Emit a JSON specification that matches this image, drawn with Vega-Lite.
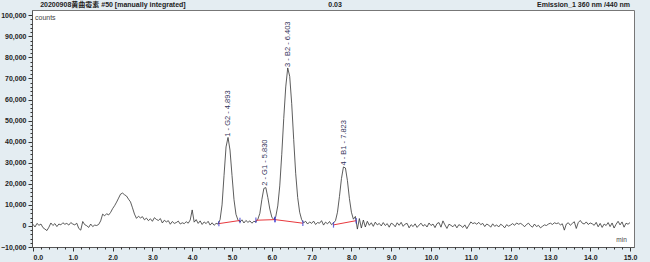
{
  "$schema": "https://vega.github.io/schema/vega-lite/v6.json",
  "width": 602,
  "height": 237,
  "autosize": {"type": "none"},
  "padding": {"left": 32, "top": 10, "right": 16, "bottom": 15},
  "background": "#e4edf2",
  "config": {
    "view": {"fill": "white", "stroke": "#777", "strokeWidth": 1},
    "font": "Liberation Sans, Noto Sans CJK SC",
    "axis": {"labelFontSize": 7, "labelFontWeight": "bold", "labelColor": "#222", "tickColor": "#333", "domainColor": "#555", "grid": false, "tickSize": 3, "labelPadding": 2, "title": null}
  },
  "datasets": {
    "trace": [
      {"t":0.00,"v":800},{"t":0.05,"v":-500},{"t":0.10,"v":1200},{"t":0.15,"v":300},{"t":0.20,"v":900},{"t":0.25,"v":-800},{"t":0.30,"v":-1500},{"t":0.35,"v":-2200},{"t":0.40,"v":-600},{"t":0.45,"v":1400},
      {"t":0.50,"v":200},{"t":0.55,"v":1100},{"t":0.60,"v":-300},{"t":0.65,"v":900},{"t":0.70,"v":500},{"t":0.75,"v":1500},{"t":0.80,"v":800},{"t":0.85,"v":1200},{"t":0.90,"v":400},{"t":0.95,"v":1600},
      {"t":1.00,"v":900},{"t":1.05,"v":500},{"t":1.10,"v":1300},{"t":1.15,"v":-1200},{"t":1.20,"v":-2000},{"t":1.25,"v":2100},{"t":1.30,"v":600},{"t":1.35,"v":100},{"t":1.40,"v":-700},{"t":1.45,"v":900},
      {"t":1.50,"v":-300},{"t":1.55,"v":400},{"t":1.60,"v":200},{"t":1.65,"v":700},{"t":1.70,"v":2400},{"t":1.75,"v":5600},{"t":1.80,"v":4800},{"t":1.85,"v":5800},{"t":1.90,"v":5200},{"t":1.95,"v":6400},
      {"t":2.00,"v":8200},{"t":2.05,"v":9600},{"t":2.10,"v":11300},{"t":2.15,"v":13200},{"t":2.20,"v":15100},{"t":2.25,"v":15600},{"t":2.30,"v":14800},{"t":2.35,"v":14200},{"t":2.40,"v":12700},{"t":2.45,"v":11400},
      {"t":2.50,"v":8600},{"t":2.55,"v":5600},{"t":2.60,"v":3600},{"t":2.65,"v":4600},{"t":2.70,"v":3800},{"t":2.75,"v":4400},{"t":2.80,"v":2900},{"t":2.85,"v":3700},{"t":2.90,"v":2500},{"t":2.95,"v":3400},
      {"t":3.00,"v":2200},{"t":3.05,"v":3900},{"t":3.10,"v":3100},{"t":3.15,"v":2600},{"t":3.20,"v":3500},{"t":3.25,"v":1400},{"t":3.30,"v":2700},{"t":3.35,"v":1900},{"t":3.40,"v":2500},{"t":3.45,"v":800},
      {"t":3.50,"v":2100},{"t":3.55,"v":1200},{"t":3.60,"v":1600},{"t":3.65,"v":2300},{"t":3.70,"v":900},{"t":3.75,"v":1500},{"t":3.80,"v":1100},{"t":3.85,"v":2000},{"t":3.90,"v":1300},{"t":3.95,"v":2800},
      {"t":4.00,"v":7600},{"t":4.05,"v":1800},{"t":4.10,"v":3000},{"t":4.15,"v":1200},{"t":4.20,"v":2400},{"t":4.25,"v":700},{"t":4.30,"v":1900},{"t":4.35,"v":1100},{"t":4.40,"v":2200},{"t":4.45,"v":400},
      {"t":4.50,"v":1500},{"t":4.55,"v":300},{"t":4.60,"v":1200},{"t":4.65,"v":900},{"t":4.70,"v":3000},{"t":4.75,"v":10000},{"t":4.80,"v":24000},{"t":4.85,"v":37500},{"t":4.90,"v":42000},{"t":4.95,"v":36000},
      {"t":5.00,"v":24000},{"t":5.05,"v":12500},{"t":5.10,"v":5500},{"t":5.15,"v":2800},{"t":5.20,"v":1800},{"t":5.25,"v":2900},{"t":5.30,"v":1400},{"t":5.35,"v":2600},{"t":5.40,"v":1700},{"t":5.45,"v":2400},
      {"t":5.50,"v":1300},{"t":5.55,"v":2200},{"t":5.60,"v":1900},{"t":5.65,"v":3200},{"t":5.70,"v":6000},{"t":5.75,"v":12500},{"t":5.80,"v":17800},{"t":5.85,"v":18200},{"t":5.90,"v":13500},{"t":5.95,"v":8000},
      {"t":6.00,"v":4200},{"t":6.05,"v":3000},{"t":6.10,"v":4500},{"t":6.15,"v":9500},{"t":6.20,"v":19000},{"t":6.25,"v":34000},{"t":6.30,"v":51000},{"t":6.35,"v":66000},{"t":6.40,"v":75000},{"t":6.45,"v":71000},
      {"t":6.50,"v":58000},{"t":6.55,"v":41000},{"t":6.60,"v":25000},{"t":6.65,"v":13500},{"t":6.70,"v":6500},{"t":6.75,"v":3000},{"t":6.80,"v":1500},{"t":6.85,"v":2200},{"t":6.90,"v":900},{"t":6.95,"v":1900},
      {"t":7.00,"v":1200},{"t":7.05,"v":2300},{"t":7.10,"v":700},{"t":7.15,"v":1600},{"t":7.20,"v":1300},{"t":7.25,"v":2500},{"t":7.30,"v":400},{"t":7.35,"v":1800},{"t":7.40,"v":1000},{"t":7.45,"v":2100},
      {"t":7.50,"v":600},{"t":7.55,"v":1400},{"t":7.60,"v":2500},{"t":7.65,"v":6500},{"t":7.70,"v":14000},{"t":7.75,"v":22500},{"t":7.80,"v":28000},{"t":7.85,"v":27500},{"t":7.90,"v":21500},{"t":7.95,"v":13000},
      {"t":8.00,"v":6500},{"t":8.05,"v":3200},{"t":8.10,"v":4500},{"t":8.15,"v":-1500},{"t":8.20,"v":3500},{"t":8.25,"v":-1000},{"t":8.30,"v":2800},{"t":8.35,"v":-500},{"t":8.40,"v":2200},{"t":8.45,"v":300},
      {"t":8.50,"v":1500},{"t":8.55,"v":-200},{"t":8.60,"v":1800},{"t":8.65,"v":500},{"t":8.70,"v":1200},{"t":8.75,"v":0},{"t":8.80,"v":1600},{"t":8.85,"v":200},{"t":8.90,"v":1100},{"t":8.95,"v":-600},
      {"t":9.00,"v":1300},{"t":9.05,"v":800},{"t":9.10,"v":-400},{"t":9.15,"v":1500},{"t":9.20,"v":300},{"t":9.25,"v":1700},{"t":9.30,"v":-200},{"t":9.35,"v":900},{"t":9.40,"v":1200},{"t":9.45,"v":-900},
      {"t":9.50,"v":600},{"t":9.55,"v":-300},{"t":9.60,"v":1000},{"t":9.65,"v":-700},{"t":9.70,"v":400},{"t":9.75,"v":1300},{"t":9.80,"v":-100},{"t":9.85,"v":700},{"t":9.90,"v":-500},{"t":9.95,"v":1400},
      {"t":10.00,"v":200},{"t":10.05,"v":900},{"t":10.10,"v":-800},{"t":10.15,"v":1100},{"t":10.20,"v":1600},{"t":10.25,"v":-600},{"t":10.30,"v":2400},{"t":10.35,"v":500},{"t":10.40,"v":-1200},{"t":10.45,"v":800},
      {"t":10.50,"v":300},{"t":10.55,"v":-400},{"t":10.60,"v":700},{"t":10.65,"v":-900},{"t":10.70,"v":600},{"t":10.75,"v":100},{"t":10.80,"v":-700},{"t":10.85,"v":500},{"t":10.90,"v":-1300},{"t":10.95,"v":300},
      {"t":11.00,"v":1900},{"t":11.05,"v":1100},{"t":11.10,"v":1500},{"t":11.15,"v":800},{"t":11.20,"v":1700},{"t":11.25,"v":600},{"t":11.30,"v":1200},{"t":11.35,"v":-300},{"t":11.40,"v":900},{"t":11.45,"v":400},
      {"t":11.50,"v":-600},{"t":11.55,"v":1000},{"t":11.60,"v":-200},{"t":11.65,"v":500},{"t":11.70,"v":-500},{"t":11.75,"v":800},{"t":11.80,"v":200},{"t":11.85,"v":-900},{"t":11.90,"v":600},{"t":11.95,"v":-100},
      {"t":12.00,"v":400},{"t":12.05,"v":1100},{"t":12.10,"v":300},{"t":12.15,"v":1400},{"t":12.20,"v":800},{"t":12.25,"v":1200},{"t":12.30,"v":600},{"t":12.35,"v":-400},{"t":12.40,"v":700},{"t":12.45,"v":1300},
      {"t":12.50,"v":100},{"t":12.55,"v":-600},{"t":12.60,"v":900},{"t":12.65,"v":-300},{"t":12.70,"v":300},{"t":12.75,"v":-900},{"t":12.80,"v":-200},{"t":12.85,"v":500},{"t":12.90,"v":200},{"t":12.95,"v":900},
      {"t":13.00,"v":1300},{"t":13.05,"v":700},{"t":13.10,"v":1500},{"t":13.15,"v":1100},{"t":13.20,"v":1400},{"t":13.25,"v":500},{"t":13.30,"v":1000},{"t":13.35,"v":-2000},{"t":13.40,"v":900},{"t":13.45,"v":1500},
      {"t":13.50,"v":300},{"t":13.55,"v":1200},{"t":13.60,"v":2000},{"t":13.65,"v":-1200},{"t":13.70,"v":1600},{"t":13.75,"v":2600},{"t":13.80,"v":1300},{"t":13.85,"v":900},{"t":13.90,"v":1900},{"t":13.95,"v":700},
      {"t":14.00,"v":1400},{"t":14.05,"v":1000},{"t":14.10,"v":300},{"t":14.15,"v":1700},{"t":14.20,"v":-400},{"t":14.25,"v":1200},{"t":14.30,"v":-700},{"t":14.35,"v":900},{"t":14.40,"v":200},{"t":14.45,"v":1600},
      {"t":14.50,"v":-300},{"t":14.55,"v":1400},{"t":14.60,"v":-1000},{"t":14.65,"v":800},{"t":14.70,"v":2200},{"t":14.75,"v":500},{"t":14.80,"v":1900},{"t":14.85,"v":-600},{"t":14.90,"v":1300},{"t":14.95,"v":800},
      {"t":15.00,"v":1600}
    ],
    "baselines": [
      {"peak":1,"t":4.67,"v":1100},{"peak":1,"t":5.20,"v":2600},
      {"peak":2,"t":5.60,"v":2700},{"peak":2,"t":6.08,"v":3000},
      {"peak":3,"t":6.08,"v":3000},{"peak":3,"t":6.78,"v":1300},
      {"peak":4,"t":7.55,"v":500},{"peak":4,"t":8.12,"v":2500}
    ],
    "peaks": [
      {"t":4.893,"v":41900,"label":"1 - G2 - 4.893"},
      {"t":5.830,"v":18600,"label":"2 - G1 - 5.830"},
      {"t":6.403,"v":75000,"label":"3 - B2 - 6.403"},
      {"t":7.823,"v":28200,"label":"4 - B1 - 7.823"}
    ],
    "one": [{}]
  },
  "resolve": {"axis": {"x": "independent", "y": "independent"}},
  "layer": [
    {
      "data": {"name": "trace"},
      "mark": {"type": "line", "color": "#333", "strokeWidth": 0.8, "interpolate": "linear"},
      "encoding": {
        "x": {"field": "t", "type": "quantitative", "scale": {"domain": [-0.025, 15.1], "nice": false, "zero": false},
          "axis": {"orient": "bottom", "values": [0,1,2,3,4,5,6,7,8,9,10,11,12,13,14,15], "format": ".1f", "tickSize": 4}},
        "y": {"field": "v", "type": "quantitative", "scale": {"domain": [-10000, 102500], "nice": false, "zero": false},
          "axis": {"orient": "left", "values": [-10000,0,10000,20000,30000,40000,50000,60000,70000,80000,90000,100000], "format": ",d", "tickSize": 4}}
      }
    },
    {
      "data": {"name": "baselines"},
      "mark": {"type": "line", "color": "#e8383d", "strokeWidth": 1},
      "encoding": {
        "x": {"field": "t", "type": "quantitative", "scale": {"domain": [-0.025, 15.1], "nice": false, "zero": false},
          "axis": {"orient": "bottom", "labels": false, "domain": false, "tickSize": 2,
            "values": [0.2,0.4,0.6,0.8,1.2,1.4,1.6,1.8,2.2,2.4,2.6,2.8,3.2,3.4,3.6,3.8,4.2,4.4,4.6,4.8,5.2,5.4,5.6,5.8,6.2,6.4,6.6,6.8,7.2,7.4,7.6,7.8,8.2,8.4,8.6,8.8,9.2,9.4,9.6,9.8,10.2,10.4,10.6,10.8,11.2,11.4,11.6,11.8,12.2,12.4,12.6,12.8,13.2,13.4,13.6,13.8,14.2,14.4,14.6,14.8]}},
        "y": {"field": "v", "type": "quantitative", "scale": {"domain": [-10000, 102500], "nice": false, "zero": false},
          "axis": {"orient": "left", "labels": false, "domain": false, "tickSize": 2,
            "values": [-8000,-6000,-4000,-2000,2000,4000,6000,8000,12000,14000,16000,18000,22000,24000,26000,28000,32000,34000,36000,38000,42000,44000,46000,48000,52000,54000,56000,58000,62000,64000,66000,68000,72000,74000,76000,78000,82000,84000,86000,88000,92000,94000,96000,98000]}},
        "detail": {"field": "peak", "type": "nominal"}
      }
    },
    {
      "data": {"name": "baselines"},
      "mark": {"type": "point", "shape": "M0,-1L0,1", "size": 30, "stroke": "#2a2ad0", "strokeWidth": 1.2, "filled": false},
      "encoding": {
        "x": {"field": "t", "type": "quantitative", "scale": {"domain": [-0.025, 15.1], "nice": false, "zero": false}, "axis": null},
        "y": {"field": "v", "type": "quantitative", "scale": {"domain": [-10000, 102500], "nice": false, "zero": false}, "axis": null}
      }
    },
    {
      "data": {"name": "peaks"},
      "mark": {"type": "text", "angle": 270, "align": "left", "baseline": "middle", "fontSize": 7.5, "color": "#33335a", "dx": 1},
      "encoding": {
        "x": {"field": "t", "type": "quantitative", "scale": {"domain": [-0.025, 15.1], "nice": false, "zero": false}, "axis": null},
        "y": {"field": "v", "type": "quantitative", "scale": {"domain": [-10000, 102500], "nice": false, "zero": false}, "axis": null},
        "text": {"field": "label"}
      }
    },
    {
      "data": {"name": "one"},
      "mark": {"type": "text", "align": "left", "baseline": "middle", "fontSize": 7, "fontWeight": "bold", "color": "#222", "clip": false},
      "encoding": {
        "x": {"datum": 0.18, "type": "quantitative", "scale": {"domain": [-0.025, 15.1], "nice": false, "zero": false}, "axis": null},
        "y": {"datum": 104870, "type": "quantitative", "scale": {"domain": [-10000, 102500], "nice": false, "zero": false}, "axis": null},
        "text": {"value": "20200908黄曲霉素 #50 [manually integrated]"}
      }
    },
    {
      "data": {"name": "one"},
      "mark": {"type": "text", "align": "center", "baseline": "middle", "fontSize": 7, "fontWeight": "bold", "color": "#222"},
      "encoding": {
        "x": {"datum": 7.59, "type": "quantitative", "scale": {"domain": [-0.025, 15.1], "nice": false, "zero": false}, "axis": null},
        "y": {"datum": 104870, "type": "quantitative", "scale": {"domain": [-10000, 102500], "nice": false, "zero": false}, "axis": null},
        "text": {"value": "0.03"}
      }
    },
    {
      "data": {"name": "one"},
      "mark": {"type": "text", "align": "right", "baseline": "middle", "fontSize": 7, "fontWeight": "bold", "color": "#222"},
      "encoding": {
        "x": {"datum": 15.0, "type": "quantitative", "scale": {"domain": [-0.025, 15.1], "nice": false, "zero": false}, "axis": null},
        "y": {"datum": 104870, "type": "quantitative", "scale": {"domain": [-10000, 102500], "nice": false, "zero": false}, "axis": null},
        "text": {"value": "Emission_1 360 nm /440 nm"}
      }
    },
    {
      "data": {"name": "one"},
      "mark": {"type": "text", "align": "left", "baseline": "middle", "fontSize": 7, "color": "#444"},
      "encoding": {
        "x": {"datum": 0.05, "type": "quantitative", "scale": {"domain": [-0.025, 15.1], "nice": false, "zero": false}, "axis": null},
        "y": {"datum": 98500, "type": "quantitative", "scale": {"domain": [-10000, 102500], "nice": false, "zero": false}, "axis": null},
        "text": {"value": "counts"}
      }
    },
    {
      "data": {"name": "one"},
      "mark": {"type": "text", "align": "right", "baseline": "middle", "fontSize": 6.5, "color": "#444"},
      "encoding": {
        "x": {"datum": 14.92, "type": "quantitative", "scale": {"domain": [-0.025, 15.1], "nice": false, "zero": false}, "axis": null},
        "y": {"datum": -6700, "type": "quantitative", "scale": {"domain": [-10000, 102500], "nice": false, "zero": false}, "axis": null},
        "text": {"value": "min"}
      }
    }
  ]
}
